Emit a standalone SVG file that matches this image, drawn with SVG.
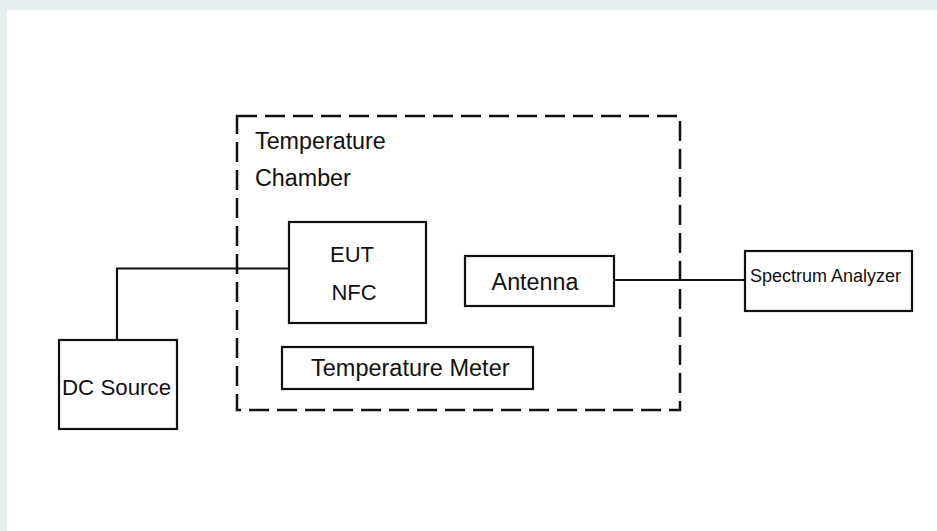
<svg xmlns="http://www.w3.org/2000/svg" width="937" height="531" viewBox="0 0 937 531">
<style>
.box{fill:#fff;stroke:#111;stroke-width:2.2}
.ln{fill:none;stroke:#111;stroke-width:2.2}
.t{font-family:"Liberation Sans",Arial,sans-serif;fill:#111;font-size:23.3px}
</style>
<rect x="0" y="0" width="937" height="531" fill="#e6eff0"/>
<rect x="7" y="10" width="930" height="521" fill="#fff"/>
<g id="chamber">
<rect x="237" y="116" width="443" height="294" fill="none" stroke="#111" stroke-width="2.5" stroke-dasharray="20 8"/>
<text class="t" x="255" y="149">Temperature</text>
<text class="t" x="255" y="186">Chamber</text>
</g>
<g id="connectors">
<polyline class="ln" points="117,340 117,268.5 289,268.5"/>
<line class="ln" x1="614" y1="280" x2="745" y2="280"/>
</g>
<g id="eut">
<rect class="box" x="289" y="222" width="137" height="101"/>
<text class="t" x="352" y="262" text-anchor="middle" style="font-size:22px">EUT</text>
<text class="t" x="354" y="300" text-anchor="middle" style="font-size:22px">NFC</text>
</g>
<g id="antenna">
<rect class="box" x="465" y="256" width="149" height="50"/>
<text class="t" x="535" y="290" text-anchor="middle">Antenna</text>
</g>
<g id="spectrum-analyzer">
<rect class="box" x="745" y="251" width="167" height="60"/>
<text class="t" x="750" y="282" style="font-size:18px">Spectrum Analyzer</text>
</g>
<g id="dc-source">
<rect class="box" x="59" y="340" width="118" height="89"/>
<text class="t" x="62" y="395" style="font-size:22.3px">DC Source</text>
</g>
<g id="temperature-meter">
<rect class="box" x="282" y="347" width="251" height="42"/>
<text class="t" x="311" y="376" style="font-size:23.5px">Temperature Meter</text>
</g>
</svg>
